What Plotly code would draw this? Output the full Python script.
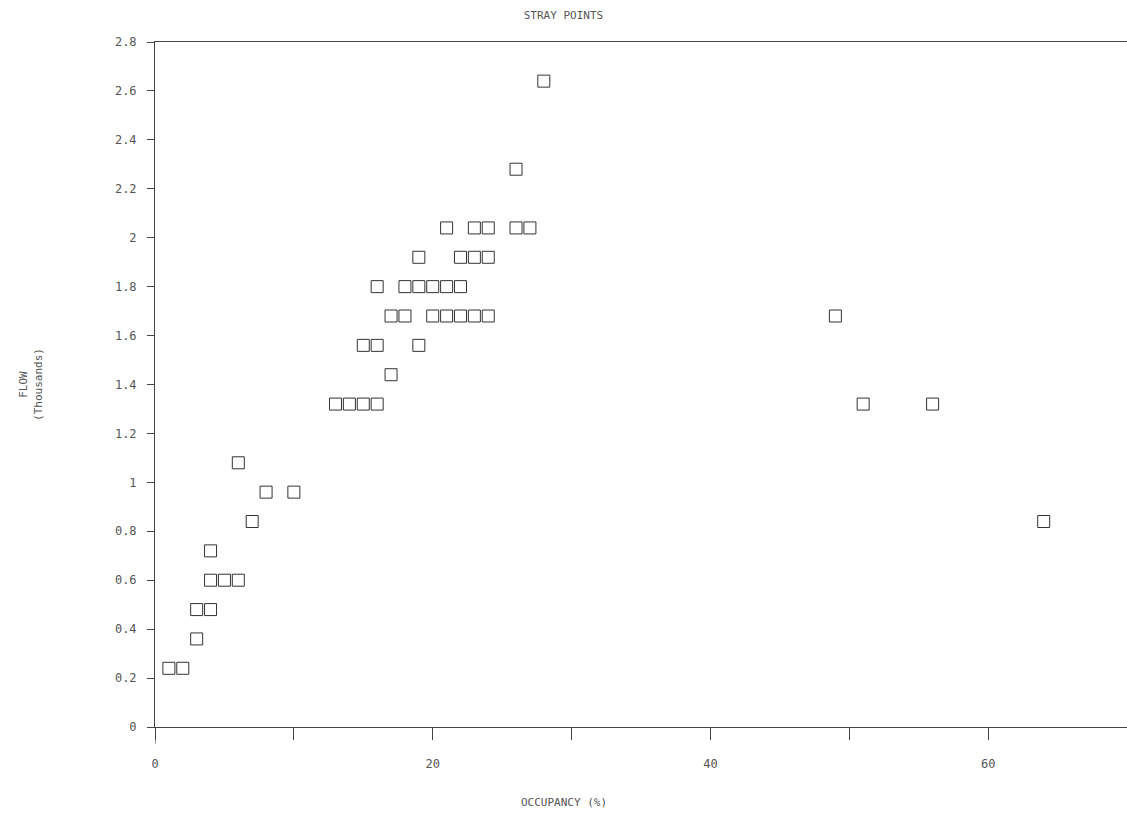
import plotly.graph_objects as go

# Data: occupancy (%) and flow (thousands)
occupancy = [1, 2,
             3,
             3, 4,
             4, 5, 6,
             4,
             7, 64,
             8, 10,
             6,
             13, 14, 15, 16, 51, 56,
             17,
             15, 16, 19,
             17, 18, 20, 21, 22, 23, 24, 49,
             16, 18, 19, 20, 21, 22,
             19, 22, 23, 24,
             21, 23, 24, 26, 27,
             26,
             28]
flow = [0.24, 0.24,
        0.36,
        0.48, 0.48,
        0.60, 0.60, 0.60,
        0.72,
        0.84, 0.84,
        0.96, 0.96,
        1.08,
        1.32, 1.32, 1.32, 1.32, 1.32, 1.32,
        1.44,
        1.56, 1.56, 1.56,
        1.68, 1.68, 1.68, 1.68, 1.68, 1.68, 1.68, 1.68,
        1.80, 1.80, 1.80, 1.80, 1.80, 1.80,
        1.92, 1.92, 1.92, 1.92,
        2.04, 2.04, 2.04, 2.04, 2.04,
        2.28,
        2.64]

x_tickvals = [0, 10, 20, 30, 40, 50, 60]
x_ticktext = ["0", "", "20", "", "40", "", "60"]
y_tickvals = [0, 0.2, 0.4, 0.6, 0.8, 1, 1.2, 1.4, 1.6, 1.8, 2, 2.2, 2.4, 2.6, 2.8]
y_ticktext = ["0", "0.2", "0.4", "0.6", "0.8", "1", "1.2", "1.4", "1.6", "1.8",
              "2", "2.2", "2.4", "2.6", "2.8"]

TXT = "#555555"
FONT = "DejaVu Sans Mono"

fig = go.Figure()
fig.add_trace(go.Scatter(
    x=occupancy, y=flow, mode="markers",
    marker=dict(symbol="square-open", size=12, color="#333333",
                line=dict(width=1, color="#333333")),
    showlegend=False, hoverinfo="x+y"))

fig.update_layout(
    width=1127, height=828,
    margin=dict(l=155, r=0, t=42, b=101),
    paper_bgcolor="white", plot_bgcolor="white",
    font=dict(family=FONT, size=11, color=TXT),
    title=dict(text="STRAY POINTS", x=0.5, xanchor="center", xref="container",
               y=0.982, yanchor="middle", font=dict(family=FONT, size=11, color=TXT)),
    xaxis=dict(range=[0, 70], tickvals=x_tickvals, ticktext=x_ticktext,
               ticks="outside", ticklen=12, tickcolor="#444", tickwidth=1,
               showline=True, linecolor="#444", linewidth=1, mirror=True,
               showgrid=False, zeroline=False, ticklabelstandoff=14,
               tickfont=dict(family=FONT, size=12, color=TXT)),
    yaxis=dict(range=[0, 2.8], tickvals=y_tickvals, ticktext=y_ticktext,
               ticks="outside", ticklen=7, tickcolor="#444", tickwidth=1,
               showline=True, linecolor="#444", linewidth=1,
               showgrid=False, zeroline=False, ticklabelstandoff=8,
               tickfont=dict(family=FONT, size=12, color=TXT),
               title=dict(text="FLOW<br>(Thousands)", standoff=70,
                          font=dict(family=FONT, size=11, color=TXT))),
)

# x-axis title centred on the whole page, as in the reference
fig.add_annotation(text="OCCUPANCY (%)", xref="paper", yref="paper",
                   x=(563.5 - 155) / (1127 - 155), y=-(803 - 727) / (727 - 42),
                   xanchor="center", yanchor="middle", showarrow=False,
                   font=dict(family=FONT, size=11, color=TXT))

# left axis extends slightly below the x axis
fig.add_shape(type="line", xref="x", yref="paper", x0=0, x1=0, y0=-0.025, y1=0,
              line=dict(color="#444", width=1))

fig.write_html("out.html")
